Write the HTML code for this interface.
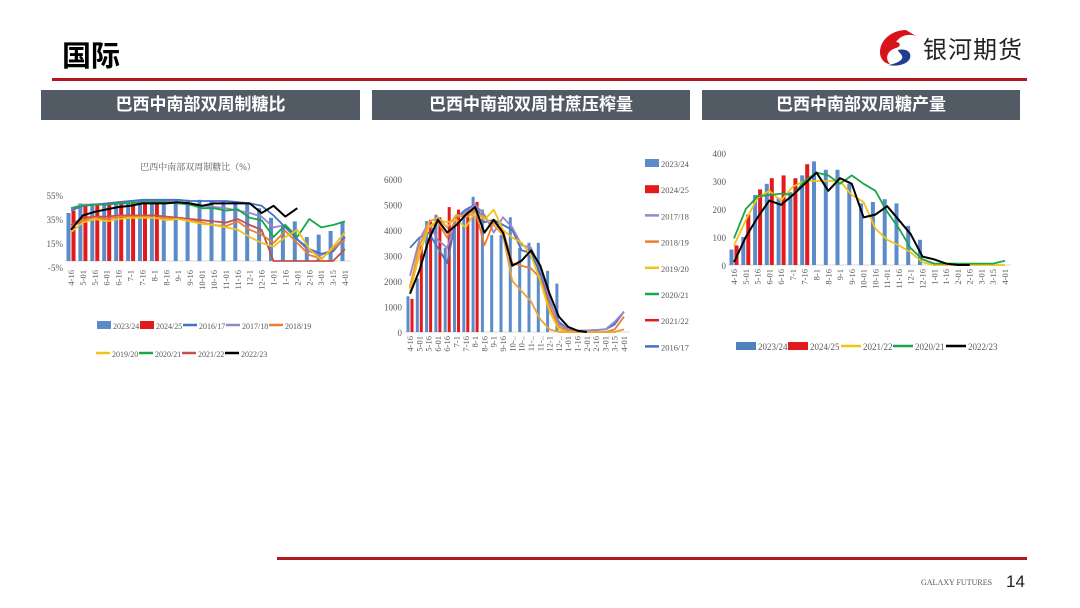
<!DOCTYPE html>
<html><head><meta charset="utf-8">
<style>
html,body{margin:0;padding:0;background:#fff;}
body{width:1080px;height:608px;position:relative;overflow:hidden;font-family:"Liberation Sans","Noto Sans CJK SC",sans-serif;}
.t{position:absolute;}
.hdr{position:absolute;top:90px;height:30px;background:#525a64;color:#fff;font-weight:bold;font-size:17px;line-height:30px;text-align:center;font-family:"Liberation Sans","Noto Sans CJK SC",sans-serif;}
svg text{font-family:"Liberation Serif","Noto Serif CJK SC",serif;fill:#595959;}
</style></head><body>
<div class="t" style="left:62px;top:33px;font-size:29px;font-weight:bold;color:#000;font-family:'Noto Sans CJK SC',sans-serif;">国际</div>
<div class="t" style="left:52px;top:78px;width:975px;height:3px;background:#b2181f;"></div>
<div class="t" style="left:923px;top:30px;font-size:24px;color:#222;font-family:'Noto Sans CJK SC',sans-serif;letter-spacing:1px;">银河期货</div>
<svg class="t" style="left:876px;top:28px" width="44" height="40" viewBox="0 0 44 40">
<path d="M30 2 C16 2 4 12 4 24 C4 32 10 36 14 36 C8 30 12 22 20 20 C26 18 24 14 20 14 C26 6 34 6 40 8 Z" fill="#d7141a"/>
<path d="M22 22 C30 20 36 24 34 30 C32 36 22 39 12 37 C20 36 28 32 26 28 C25 25 22 24 22 22 Z" fill="#1e3f8f"/>
</svg>
<div class="hdr" style="left:41px;width:319px;">巴西中南部双周制糖比</div>
<div class="hdr" style="left:372px;width:318px;">巴西中南部双周甘蔗压榨量</div>
<div class="hdr" style="left:702px;width:318px;">巴西中南部双周糖产量</div>
<div class="t" style="left:277px;top:557px;width:750px;height:3px;background:#b2181f;"></div>
<div class="t" style="left:921px;top:578px;font-size:8px;color:#555;font-family:'Liberation Serif',serif;">GALAXY FUTURES</div>
<div class="t" style="left:1006px;top:572px;font-size:17px;color:#222;">14</div>
<svg id="s" class="t" style="left:0;top:0" width="1080" height="608"></svg>
<script>
var S='';
function L(pts,c,w){S+='<polyline points="'+pts.map(function(p){return p[0].toFixed(1)+','+p[1].toFixed(1)}).join(' ')+'" fill="none" stroke="'+c+'" stroke-width="'+(w||2)+'" stroke-linejoin="round"/>';}
function R(x,y,w,h,c){S+='<rect x="'+x.toFixed(1)+'" y="'+y.toFixed(1)+'" width="'+w+'" height="'+h.toFixed(1)+'" fill="'+c+'"/>';}
function T(x,y,s,sz,anc,rot){S+='<text x="'+x+'" y="'+y+'" font-size="'+sz+'"'+(anc?' text-anchor="'+anc+'"':'')+(rot?' transform="rotate(-90 '+x+' '+y+')"':'')+'>'+s+'</text>';}
var B='#5b8bc9',RD='#e31a1c',K='#000',G='#1aa64b',Y='#f2c316',O='#ed7d31',P='#9a86c6',DR='#c0504d',BL='#4472c4';
var cats1=['4-16','5-01','5-16','6-01','6-16','7-1','7-16','8-1','8-16','9-1','9-16','10-01','10-16','11-01','11-16','12-1','12-16','1-01','1-16','2-01','2-16','3-01','3-15','4-01'];
var cats2=['4-16','5-01','5-16','6-01','6-16','7-1','7-16','8-1','8-16','9-1','9-16','10-..','10-..','11-..','11-..','12-1','12-..','1-01','1-16','2-01','2-16','3-01','3-15','4-01'];
function chart(o){
 var n=24,dx=(o.x1-o.x0)/(n-1);
 function X(i){return o.x0+i*dx;}
 function Yv(v){return o.y0-(v-o.vmin)*(o.y0-o.ytop)/(o.vmax-o.vmin);}
 o.ticks.forEach(function(t){T(o.x0-8,Yv(t[0])+4,t[1],9,'end');});
 var base=Yv(o.base);
 S+='<line x1="'+(o.x0-6)+'" y1="'+base+'" x2="'+(o.x1+6)+'" y2="'+base+'" stroke="#d9d9d9"/>';
 var bw=o.bw;
 o.b1.forEach(function(v,i){var y=Yv(v);R(X(i)-bw-0.5,y,bw,base-y,B);});
 o.b2.forEach(function(v,i){var y=Yv(v);R(X(i)+0.5,y,bw,base-y,RD);});
 o.lines.forEach(function(l){L(l[0].map(function(v,i){return [X(i),Yv(v)];}),l[1],l[2]||1.8);});
 o.cats.forEach(function(c,i){T(X(i)+3,o.ly,c,8.5,'end',true);});
}
T(198,170,'巴西中南部双周制糖比（%）',9,'middle');
chart({x0:71,x1:345,ytop:195,y0:267,vmin:-5,vmax:55,base:0,bw:4,
 ticks:[[55,'55%'],[35,'35%'],[15,'15%'],[-5,'-5%']],cats:cats1,ly:270,
 b1:[40,48,48,48,49,50,50,51,51,51,51,51,50,50,49,48,44,36,30,33,20,22,25,33],
 b2:[42,47,48,48,49,50,51,51],
 lines:[
 [[44,47,47,48,49,50,50,50,50,49,48,46,45,44,42,40,37,28,30,18,8,5,10,20],P],
 [[42,46,47,48,49,50,51,51,51,51,50,50,50,50,49,48,46,38,28,18,10,6,8,20],BL],
 [[44,46,47,47,48,48,49,49,49,48,47,44,44,42,43,36,34,20,30,20,35,28,30,33],G],
 [[30,36,37,37,38,38,38,38,37,36,35,34,33,32,35,30,26,0,0,0,0,0,0,10],DR],
 [[28,34,36,35,37,37,37,36,36,35,34,32,30,29,33,26,22,15,25,15,5,2,10,18],O],
 [[24,32,35,33,35,36,36,36,34,35,33,31,30,28,26,20,15,12,20,26,10,1,12,24],Y],
 [[26,38,41,43,45,46,48,48,48,49,48,46,48,48,48,48,40,46,37,44],K,2]
 ]});
function leg(items,y,sz,sw){items.forEach(function(it){ if(it[2])R(it[0],y-5,sw,8,it[1]); else S+='<line x1="'+it[0]+'" y1="'+(y-1)+'" x2="'+(it[0]+sw)+'" y2="'+(y-1)+'" stroke="'+it[1]+'" stroke-width="2.5"/>'; T(it[0]+sw+2,y+3,it[3],sz);});}
leg([[97,B,1,'2023/24'],[140,RD,1,'2024/25'],[183,BL,0,'2016/17'],[226,P,0,'2017/18'],[269,O,0,'2018/19']],326,8,14);
leg([[96,Y,0,'2019/20'],[139,G,0,'2020/21'],[182,DR,0,'2021/22'],[225,K,0,'2022/23']],354,8,14);
chart({x0:410,x1:624,ytop:179,y0:332,vmin:0,vmax:6000,base:0,bw:3,
 ticks:[[6000,'6000'],[5000,'5000'],[4000,'4000'],[3000,'3000'],[2000,'2000'],[1000,'1000'],[0,'0']],cats:cats2,ly:336,
 b1:[1400,2100,4350,4600,3300,4300,4500,5300,4800,3800,3800,4500,3300,3500,3500,2400,1900,0,0,0,0,0,0,0],
 b2:[1300,3400,4400,4500,4900,4800,4800,5100],
 lines:[
 [[3300,3700,3900,3300,2700,4500,4800,5000,4300,4400,4200,4000,3200,3100,2300,1200,400,100,50,60,80,100,300,800],BL],
 [[2200,3600,4300,3600,3300,4500,4700,5000,4600,3900,4500,4100,3400,3300,2500,1300,300,100,50,60,80,100,400,800],P],
 [[1700,3400,4100,4300,3700,4500,4600,4800,3400,4300,4000,2700,2600,2500,2100,1000,200,50,0,0,0,0,100,600],O],
 [[1600,3000,4100,4400,4300,4400,4100,4700,4400,4800,4000,3700,3500,3000,2000,800,100,0,0,0,0,0,0,100],Y],
 [[1800,3300,4300,4500,4100,4600,4500,4700,4500,4200,3800,2000,1600,1200,500,100,0,0,0,0,0,0,0,100],'#e8a33a'],
 [[1500,2400,3600,4400,3900,4200,4600,4900,3900,4400,3900,2600,2800,3200,2600,1500,600,200,50,0],K,2]
 ]});
var li=[[B,1,'2023/24'],[RD,1,'2024/25'],[P,0,'2017/18'],[O,0,'2018/19'],[Y,0,'2019/20'],[G,0,'2020/21'],[RD,0,'2021/22'],[BL,0,'2016/17']];
li.forEach(function(it,k){var y=163+k*26.2; if(it[1])R(645,y-4,14,8,it[0]); else S+='<line x1="645" y1="'+y+'" x2="659" y2="'+y+'" stroke="'+it[0]+'" stroke-width="2.5"/>'; T(661,y+4,it[2],8.5);});
chart({x0:734,x1:1005,ytop:153,y0:265,vmin:0,vmax:400,base:0,bw:4,
 ticks:[[400,'400'],[300,'300'],[200,'200'],[100,'100'],[0,'0']],cats:cats1,ly:269,
 b1:[55,100,250,290,240,260,320,370,340,340,290,220,225,235,220,140,90,0,0,0,0,0,0,0],
 b2:[70,180,270,310,320,310,360],
 lines:[
 [[70,160,240,265,230,280,300,300,300,300,250,225,130,90,70,45,10,0,0,0,0,0,0,0],Y],
 [[95,200,245,250,255,250,300,330,320,290,320,290,265,190,130,60,20,5,5,5,5,5,5,15],G],
 [[10,100,170,230,215,250,290,330,265,310,290,170,180,210,160,110,30,20,5,0,0],K,2]
 ]});
leg([[736,'#4f81bd',1,'2023/24'],[788,RD,1,'2024/25'],[841,Y,0,'2021/22'],[893,G,0,'2020/21'],[946,K,0,'2022/23']],347,9,20);
document.getElementById('s').innerHTML=S;
</script>
</body></html>
